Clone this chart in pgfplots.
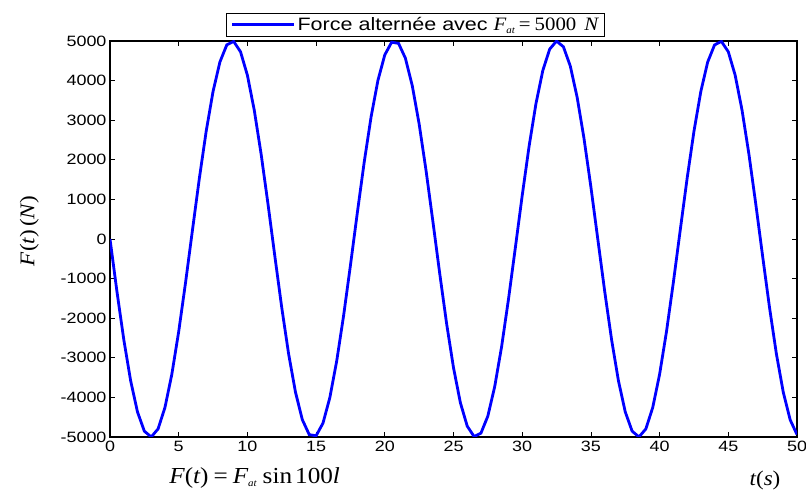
\documentclass[border=0pt]{standalone}
\usepackage{fontspec}
\setmainfont{Liberation Sans}[FakeStretch=1.2]
\newfontfamily\tnr{Liberation Serif}[FakeStretch=1.1]
\usepackage{pgfplots}
\pgfplotsset{compat=1.18}
\newcommand{\mi}[1]{{\tnr\itshape #1}}
\newcommand{\mr}[1]{{\tnr #1}}
\begin{document}
\begin{tikzpicture}
\useasboundingbox (0,0) rectangle (806bp,493bp);
\begin{axis}[
  at={(110bp,56bp)}, anchor=south west,
  scale only axis, width=687bp, height=396bp,
  xmin=0, xmax=50, ymin=-5000, ymax=5000,
  xtick={0,5,...,50}, ytick={-5000,-4000,...,5000},
  scaled ticks=false,
  /pgf/number format/assume math mode=true,
  /pgf/number format/1000 sep={},
  tick label style={font=\fontsize{15}{15}\selectfont, black},
  xticklabel style={yshift=-1bp},
  tick align=inside, major tick length=5bp,
  tick style={black, line width=0.8bp},
  axis line style={black, line width=1.1bp},
  legend style={at={(0.4447,1)}, anchor=south, yshift=4.5bp, draw=black, line width=0.9bp,
    font=\fontsize{18}{18}\selectfont, inner xsep=4bp, inner ysep=2bp},
  legend image code/.code={\draw[#1] (0bp,0bp) -- (62bp,0bp);},
  legend cell align=left,
  ylabel={\fontsize{21}{21}\selectfont\mi{F}\mr{(}\mi{t}\mr{)}\,\mr{(}\mi{N}\mr{)}},
  ylabel style={at={(-0.1173,0.52)}, anchor=center, rotate=0},
  xlabel={\fontsize{21}{21}\selectfont\mi{t}\mr{(}\mi{s}\mr{)}},
  xlabel style={at={(0.9535,-0.1085)}, anchor=center},
  after end axis/.code={
    \node[anchor=center, inner sep=0pt] at (axis description cs:0.2106,-0.1035)
      {\fontsize{23}{23}\selectfont\mi{F}\mr{(}\mi{t}\mr{)}\kern5bp\mr{=}\kern5bp\mi{F}\raisebox{-3bp}{\fontsize{10}{10}\selectfont\mi{at}}\kern6bp\mr{sin}\kern3bp\mr{100}\mi{l}};
  },
]
\addplot[blue, line width=2.8bp] coordinates {
(0,0) (0.5,-1311.9) (1,-2531.8) (1.5,-3574.4) (2,-4366.5) (2.5,-4852.6) (3,-4998.8) (3.5,-4794.7) (4,-4254.6) (4.5,-3416.4)
(5,-2338.9) (5.5,-1097.4) (6,220.9) (6.5,1523.8) (7,2719.8) (7.5,3725.4) (8,4469.9) (8.5,4901.1) (9,4989.0) (9.5,4727.3)
(10,4134.4) (10.5,3251.8) (11,2141.3) (11.5,880.8) (12,-441.4) (12.5,-1732.7) (13,-2902.6) (13.5,-3869.1) (14,-4564.5) (14.5,-4940.1)
(15,-4969.5) (15.5,-4650.8) (16,-4006.1) (16.5,-3080.8) (17,-1939.6) (17.5,-662.5) (18,661.0) (18.5,1938.2) (19,3079.6) (19.5,4005.2)
(20,4650.2) (20.5,4969.3) (21,4940.3) (21.5,4565.1) (22,3870.0) (22.5,2903.8) (23,1734.1) (23.5,442.9) (24,-879.3) (24.5,-2139.9)
(25,-3250.7) (25.5,-4133.6) (26,-4726.8) (26.5,-4988.9) (27,-4901.4) (27.5,-4470.5) (28,-3726.4) (28.5,-2721.1) (29,-1525.1) (29.5,-222.4)
(30,1096.0) (30.5,2337.5) (31,3415.3) (31.5,4253.8) (32,4794.2) (32.5,4998.7) (33,4853.0) (33.5,4367.2) (34,3575.5) (34.5,2533.1)
(35,1313.4) (35.5,1.5) (36,-1310.4) (36.5,-2530.5) (37,-3573.4) (37.5,-4365.7) (38,-4852.3) (38.5,-4998.8) (39,-4795.1) (39.5,-4255.4)
(40,-3417.5) (40.5,-2340.2) (41,-1098.9) (41.5,219.4) (42,1522.4) (42.5,2718.6) (43,3724.4) (43.5,4469.2) (44,4900.8) (44.5,4989.1)
(45,4727.8) (45.5,4135.3) (46,3252.9) (46.5,2142.7) (47,882.3) (47.5,-439.9) (48,-1731.3) (48.5,-2901.3) (49,-3868.2) (49.5,-4563.9)
(50,-4939.9)
};
\addlegendentry{Force alternée avec {\fontsize{19}{19}\selectfont\mi{F}\raisebox{-3bp}{\fontsize{10}{10}\selectfont\mi{at}}\kern4bp\mr{=}\kern4bp\mr{5000}\kern8bp\mi{N}}}
\end{axis}
\end{tikzpicture}
\end{document}
